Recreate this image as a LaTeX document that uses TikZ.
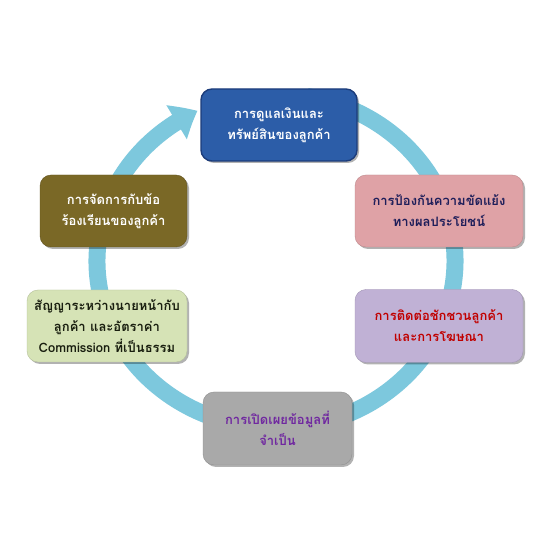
\documentclass[tikz,border=0pt]{standalone}
\usepackage{fontspec}
\usepackage{tikz}
\usetikzlibrary{positioning,arrows.meta,bending,shadows}
\newfontfamily\thaifont[Script=Thai]{Loma}

\definecolor{ringblue}{RGB}{125,200,221}
\definecolor{caringfill}{RGB}{44,93,168}
\definecolor{caringline}{RGB}{28,60,122}
\definecolor{conflictfill}{RGB}{223,162,166}
\definecolor{solicitfill}{RGB}{192,177,213}
\definecolor{disclosefill}{RGB}{169,169,169}
\definecolor{contractfill}{RGB}{214,227,182}
\definecolor{complaintfill}{RGB}{122,104,38}
\definecolor{navytext}{RGB}{30,30,90}
\definecolor{redtext}{RGB}{192,0,0}
\definecolor{purpletext}{RGB}{112,40,160}
\definecolor{darktext}{RGB}{25,30,15}

\tikzset{
  box/.style={rectangle, rounded corners=11pt, align=center, inner sep=0pt,
    font=\thaifont\bfseries\fontsize{13}{21}\selectfont,
    drop shadow={shadow xshift=2pt, shadow yshift=-2pt, opacity=.3, fill=black}},
  ring/.style={draw=ringblue, line width=17pt,
    -{Triangle[width=38pt,length=24pt,bend]}}
}

\begin{document}
\begin{tikzpicture}[x=1pt,y=1pt]
  \useasboundingbox[fill=white] (0,0) rectangle (550,550);
  \coordinate (o) at (276,289);
  % ring behind the boxes
  \draw[ring] (o) ++(80:179pt and 167pt)
    arc[start angle=80, end angle=-244, x radius=179pt, y radius=167pt];
  \node[box, minimum width=156pt, minimum height=72pt,
    fill=caringfill, draw=caringline, line width=1.4pt, text=white] (caring) at (279,425)
    {การดูแลเงินและ\\ทรัพย์สินของลูกค้า};
  \node[box, on grid, below right=86pt and 160pt of caring, minimum width=168pt, minimum height=72pt,
    fill=conflictfill, draw=conflictfill!85!black, text=navytext] (conflict)
    {การป้องกันความขัดแย้ง\\ทางผลประโยชน์};
  \node[box, on grid, below=115pt of conflict, minimum width=168pt, minimum height=73pt,
    fill=solicitfill, draw=solicitfill!85!black, text=redtext] (solicit)
    {การติดต่อชักชวนลูกค้า\\และการโฆษณา};
  \node[box, on grid, below=303.5pt of caring, xshift=-1.5pt, minimum width=149pt, minimum height=73pt,
    fill=disclosefill, draw=disclosefill!85!black, text=purpletext] (disclose)
    {การเปิดเผยข้อมูลที่\\จำเป็น};
  \node[box, on grid, left=325.5pt of conflict, minimum width=147pt, minimum height=72pt,
    fill=complaintfill, draw=complaintfill!80!black, text=white] (complaint)
    {การจัดการกับข้อ\\ร้องเรียนของลูกค้า};
  \node[box, on grid, below=115pt of complaint, xshift=-6.5pt, minimum width=160pt, minimum height=72pt,
    fill=contractfill, draw=contractfill!85!black, text=darktext] (contract)
    {สัญญาระหว่างนายหน้ากับ\\ลูกค้า และอัตราค่า\\Commission ที่เป็นธรรม};
\end{tikzpicture}
\end{document}
